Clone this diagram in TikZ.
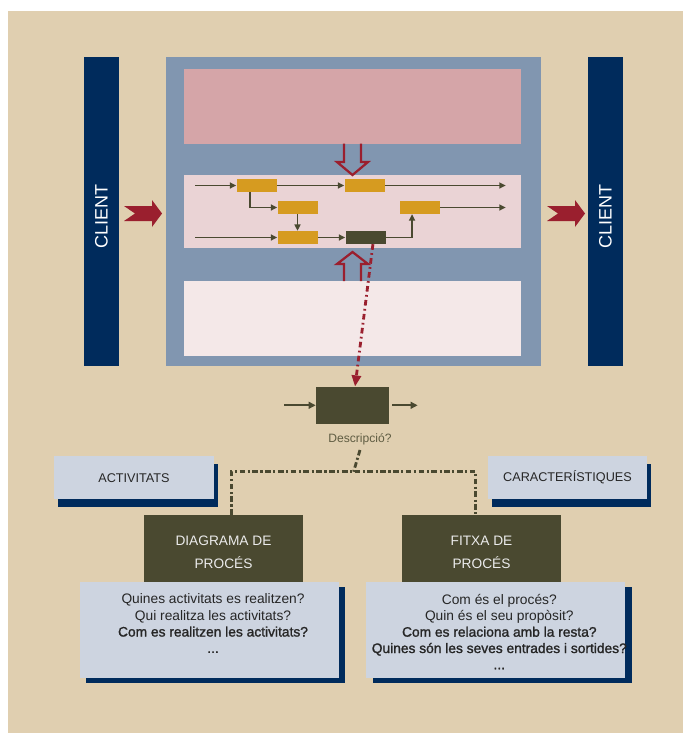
\documentclass[tikz,border=0pt]{standalone}
\usepackage{fontspec}
\setmainfont{Liberation Sans}
\newfontfamily\heavyfont[FakeBold=1.4]{Liberation Sans}
\usetikzlibrary{arrows.meta,calc,positioning,shadows}
\definecolor{procbeige}{RGB}{224,207,176}
\definecolor{procnavy}{RGB}{0,43,92}
\definecolor{procslate}{RGB}{129,150,176}
\definecolor{procrose}{RGB}{213,165,168}
\definecolor{procblush}{RGB}{234,211,213}
\definecolor{procmist}{RGB}{244,232,232}
\definecolor{procgold}{RGB}{214,155,32}
\definecolor{procolive}{RGB}{74,73,48}
\definecolor{procred}{RGB}{154,31,46}
\definecolor{procpale}{RGB}{205,212,224}
\begin{document}
\begin{tikzpicture}[x=0.25mm,y=-0.25mm,>=Stealth,
  every node/.style={inner sep=0pt,font=\fontsize{9.8}{11.6}\selectfont},
  bar/.style={fill=procnavy,minimum width=8.75mm,minimum height=77.25mm},
  clientlbl/.style={rotate=90,text=white,font=\fontsize{12.8}{14}\selectfont},
  band/.style={minimum width=84.25mm,minimum height=18.7mm},
  task/.style={fill=procgold,minimum width=10mm,minimum height=3.2mm},
  flow/.style={->,procolive,line width=1.1pt,>={Triangle[length=4.5pt,width=4.2pt]}},
  flowbold/.style={->,procolive,line width=1.5pt,>={Triangle[length=5pt,width=4.8pt]}},
  hollow/.style={draw=procred,line width=1.6pt,line join=miter},
  reddash/.style={procred,line width=2pt,dash pattern=on 4pt off 2.4pt on 1.2pt off 2.4pt,
    -{Triangle[length=8pt,width=6.5pt]}},
  olivedash/.style={procolive,line width=2pt,dash pattern=on 4pt off 1.8pt on 1.5pt off 1.8pt},
  tagbox/.style={fill=procpale,minimum width=40mm,minimum height=10.85mm,text=black!85,
    font=\fontsize{9}{10}\selectfont,
    general shadow={fill=procnavy,shadow xshift=0.9mm,shadow yshift=-1.9mm}},
  casebox/.style={fill=procolive,minimum width=39.75mm,minimum height=18.65mm,align=center,
    text=white!92!black,font=\fontsize{9.75}{17}\selectfont},
  qbox/.style={fill=procpale,minimum width=64.75mm,minimum height=24mm,
    general shadow={fill=procnavy,shadow xshift=1.6mm,shadow yshift=-1.3mm}},
  qtext/.style={align=center,text=black!85,xshift=2.5pt},
  chevron/.pic={\fill[procred] (0,-7.5) -- (11,0) -- (0,7.5) -- (28,7.5) -- (28,13.5)
    -- (38,0) -- (28,-13.5) -- (28,-7.5) -- cycle;}]
 \useasboundingbox (0,0) rectangle (683,733);
 \fill[white] (0,0) rectangle (683,733);
 \fill[procbeige] (8,11) rectangle (683,733);

 \node[bar] (cl) at (101.5,211.5) {};
 \node[bar] (cr) at (605.5,211.5) {};
 \node[clientlbl] at ([yshift=-3.9pt]cl.center) {CLIENT};
 \node[clientlbl] at ([yshift=-3.9pt]cr.center) {CLIENT};
 \pic at (124,213.5) {chevron};
 \pic at (547,213.5) {chevron};

 \node[fill=procslate,minimum width=93.75mm,minimum height=77.25mm] (proc) at (353.5,211.5) {};
 \node[band,fill=procrose] (guide) at (352.5,106.3) {};
 \node[band,fill=procblush,minimum height=18.2mm] (flowband) at (352.5,211.3) {};
 \node[band,fill=procmist] (support) at (352.5,318.3) {};
 \draw[hollow] (344,143.7) -- (344,162) -- (337,162) -- (352.5,175) -- (368,162)
  -- (361,162) -- (361,143.7);
 \draw[hollow] (344,281) -- (344,264) -- (337,264) -- (352.5,252) -- (368,264)
  -- (361,264) -- (361,281);

 \node[task] (t1) at (256.5,185.5) {};
 \node[task] (t2) at (364.5,185.5) {};
 \node[task] (t3) at (297.5,207.5) {};
 \node[task] (t4) at (419.5,207.5) {};
 \node[task] (t5) at (297.5,237.5) {};
 \node[task,fill=procolive] (tk) at (365.5,237.5) {};
 \coordinate (in1) at (195,185.5);
 \coordinate (out1) at (505.7,185.5);
 \coordinate (in3) at (195,237.5);
 \coordinate (out2) at (505.7,207.5);
 \draw[flow] (in1) -- (t1);
 \draw[flow] (t1) -- (t2);
 \draw[flow] (t2) -- (out1);
 \draw[flow] ([xshift=-4.8pt]t1.south) |- (t3);
 \draw[flow] (t3) -- (t5);
 \draw[flow] (in3) -- (t5);
 \draw[flow] (t5) -- (tk);
 \draw[flow] (tk) -| ([xshift=-5.3pt]t4.south);
 \draw[flow] (t4) -- (out2);

 \node[fill=procolive,minimum width=18.25mm,minimum height=9.2mm] (desc) at (352.5,405.3) {};
 \draw[reddash] ([xshift=5.3pt]tk.south) -- ([xshift=1.8pt]desc.north);
 \coordinate (din) at (284,405.3);
 \coordinate (dout) at (417.7,405.3);
 \draw[flowbold] (din) -- (desc);
 \draw[flowbold,shorten <=2pt] (desc) -- (dout);
 \node[text=procolive!85!procbeige,font=\fontsize{8.6}{10}\selectfont] (desclabel)
  at (360,439) {Descripció?};

 \node[tagbox] (act) at (134,477.7) {ACTIVITATS};
 \node[tagbox,minimum width=39.75mm] (car) at (567.5,477.7) {CARACTERÍSTIQUES};
 \node[casebox] (diag) at (223.5,552.3) {DIAGRAMA DE\\PROCÉS};
 \node[casebox] (fitxa) at (481.5,552.3) {FITXA DE\\PROCÉS};
 \coordinate (split) at (353.6,471.7);
 \draw[olivedash] (desclabel.south) ++(0,5) -- (split);
 \draw[olivedash] ([xshift=5.6pt]diag.north) |- (split) -| ([xshift=-4.1pt]fitxa.north);

 \node[qbox] (qact) at (209.5,629.7) {};
 \node[qbox] (qcar) at (495.8,629.7) {};
 \node[qtext,below=8.7pt of qact.north] {Quines activitats es realitzen?\\
  Qui realitza les activitats?\\
  {\heavyfont Com es realitzen les activitats?}\\
  {\heavyfont ...}};
 \node[qtext,below=8.7pt of qcar.north] {Com és el procés?\\
  Quin és el seu propòsit?\\
  {\heavyfont Com es relaciona amb la resta?}\\
  {\heavyfont Quines són les seves entrades i sortides?}\\
  {\heavyfont ...}};
\end{tikzpicture}
\end{document}
